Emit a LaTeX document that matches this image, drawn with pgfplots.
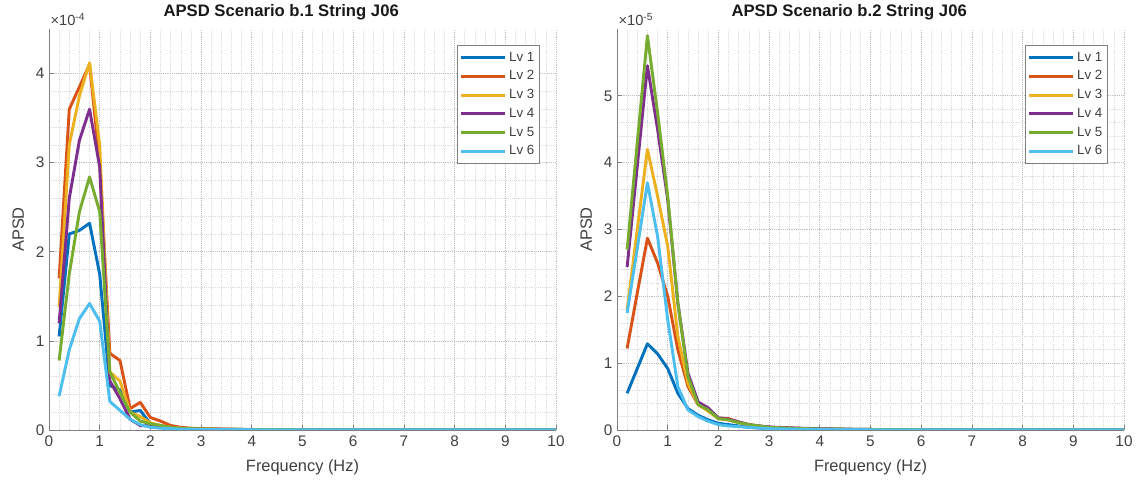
\documentclass[border=0pt]{standalone}
\usepackage{pgfplots}
\pgfplotsset{compat=1.18}
\usepackage{pgfplotstable}
\usepackage{fontspec}
\setmainfont{Liberation Sans}
\definecolor{c1}{rgb}{0,0.447,0.741}
\definecolor{c2}{rgb}{0.85,0.325,0.098}
\definecolor{c3}{rgb}{0.929,0.694,0.125}
\definecolor{c4}{rgb}{0.494,0.184,0.556}
\definecolor{c5}{rgb}{0.466,0.674,0.188}
\definecolor{c6}{rgb}{0.301,0.745,0.933}
\definecolor{axgray}{rgb}{0.5,0.5,0.5}
\definecolor{txtgray}{rgb}{0.25,0.25,0.25}

% left: values in units of 1e-4
\pgfplotstableread{
f    a     b     c     d     e     g
0.2  1.05  1.70  1.38  1.20  0.78  0.38
0.4  2.20  3.60  3.20  2.60  1.75  0.90
0.6  2.24  3.85  3.75  3.25  2.45  1.25
0.8  2.32  4.10  4.12  3.60  2.84  1.42
1.0  1.75  3.00  3.20  2.95  2.45  1.22
1.2  0.50  0.86  0.65  0.55  0.65  0.32
1.4  0.45  0.78  0.55  0.35  0.42  0.22
1.6  0.20  0.24  0.20  0.12  0.20  0.12
1.8  0.22  0.31  0.15  0.05  0.10  0.06
2.0  0.07  0.14  0.08  0.05  0.07  0.03
2.2  0.05  0.10  0.05  0.03  0.05  0.02
2.4  0.03  0.05  0.03  0.02  0.03  0.015
2.6  0.02  0.03  0.02  0.015 0.02  0.01
2.8  0.015 0.02  0.015 0.01  0.015 0.008
3.0  0.01  0.015 0.01  0.008 0.01  0.006
4.0  0.005 0.006 0.005 0.004 0.005 0.003
5.0  0.003 0.003 0.003 0.002 0.003 0.002
6.0  0.002 0.002 0.002 0.001 0.002 0.001
7.0  0.001 0.001 0.001 0.001 0.001 0.001
8.0  0.001 0.001 0.001 0.001 0.001 0.001
9.0  0.001 0.001 0.001 0.001 0.001 0.001
10.0 0.001 0.001 0.001 0.001 0.001 0.001
}\tabL

% right: values in units of 1e-5
\pgfplotstableread{
f    a     b     c     d     e     g
0.2  0.55  1.22  1.80  2.44  2.70  1.75
0.4  0.92  2.05  3.00  3.95  4.30  2.72
0.6  1.29  2.87  4.20  5.45  5.90  3.70
0.8  1.14  2.50  3.50  4.50  4.75  2.90
1.0  0.92  2.00  2.75  3.45  3.50  1.65
1.2  0.55  1.20  1.40  1.90  1.90  0.65
1.4  0.32  0.65  0.70  0.85  0.80  0.30
1.6  0.22  0.38  0.38  0.42  0.38  0.20
1.8  0.15  0.30  0.28  0.33  0.30  0.13
2.0  0.10  0.18  0.17  0.18  0.17  0.08
2.2  0.08  0.17  0.15  0.16  0.15  0.06
2.4  0.06  0.12  0.11  0.12  0.11  0.05
2.6  0.04  0.08  0.08  0.08  0.08  0.04
2.8  0.03  0.06  0.06  0.06  0.06  0.03
3.0  0.02  0.04  0.04  0.045 0.04  0.02
3.5  0.015 0.025 0.025 0.03  0.025 0.012
4.0  0.01  0.015 0.015 0.018 0.015 0.008
5.0  0.005 0.008 0.008 0.008 0.008 0.004
6.0  0.003 0.004 0.004 0.004 0.004 0.002
7.0  0.002 0.002 0.002 0.002 0.002 0.001
8.0  0.001 0.001 0.001 0.001 0.001 0.001
9.0  0.001 0.001 0.001 0.001 0.001 0.001
10.0 0.001 0.001 0.001 0.001 0.001 0.001
}\tabR

\pgfplotsset{
  mystyle/.style={
    scale only axis, width=380.25pt, height=300.75pt,
    anchor=south west,
    xmin=0, xmax=10, ymin=0,
    xtick={0,1,...,10},
    axis x line*=bottom, axis y line*=left,
    axis line style={axgray, line width=0.6pt, -},
    tick style={axgray, line width=0.5pt},
    tick align=inside, major tick length=4pt,
    minor tick num=4, minor tick length=0pt,
    grid=both,
    major grid style={densely dotted, black!25, line width=0.5pt},
    minor grid style={densely dotted, black!14, line width=0.45pt},
    ticklabel style={font=\fontsize{11.5}{13}\selectfont, text=txtgray},
    xticklabel style={yshift=-1pt},
    /pgf/number format/assume math mode=true,
    xlabel={Frequency (Hz)}, ylabel={APSD},
    xlabel style={font=\fontsize{12.3}{14}\selectfont, text=txtgray, yshift=-3pt},
    ylabel style={font=\fontsize{12.3}{14}\selectfont, text=txtgray, yshift=2pt},
    title style={font=\bfseries\fontsize{12.5}{14}\selectfont, text=black!90, xshift=-16pt, yshift=-3pt},
    every axis plot/.append style={line width=2.2pt, line join=round, no markers},
    legend cell align=left,
    legend style={at={(rel axis cs:1,1)}, anchor=north east, xshift=-12pt, yshift=-12pt,
      draw=axgray, line width=0.5pt, font=\fontsize{10}{12}\selectfont, text=txtgray,
      row sep=1.6pt, inner xsep=2pt, inner ysep=3pt},
    legend image code/.code={\draw[##1, line width=2.2pt] (0cm,0cm) -- (1.15cm,0cm);},
  },
  scalelabel/.style={
    after end axis/.append code={
      \node[anchor=south west, inner sep=1pt, yshift=1pt, text=txtgray, font=\fontsize{11}{13}\selectfont]
        at (rel axis cs:0,1) {×10\textsuperscript{#1}};
    }
  }
}

\begin{document}
\begin{tikzpicture}
\useasboundingbox (0,0) rectangle (852pt,363pt);
\begin{axis}[mystyle, at={(36.75pt,40.5pt)}, ymax=4.5,
  ytick={0,1,2,3,4}, scalelabel={-4},
  title={APSD Scenario b.1 String J06}]
\addplot[c1] table[x=f,y=a]{\tabL};
\addplot[c2] table[x=f,y=b]{\tabL};
\addplot[c3] table[x=f,y=c]{\tabL};
\addplot[c4] table[x=f,y=d]{\tabL};
\addplot[c5] table[x=f,y=e]{\tabL};
\addplot[c6] table[x=f,y=g]{\tabL};
\legend{Lv 1,Lv 2,Lv 3,Lv 4,Lv 5,Lv 6}
\end{axis}
\begin{axis}[mystyle, at={(462.75pt,40.5pt)}, ymax=6,
  ytick={0,1,2,3,4,5}, scalelabel={-5},
  title={APSD Scenario b.2 String J06}]
\addplot[c1] table[x=f,y=a]{\tabR};
\addplot[c2] table[x=f,y=b]{\tabR};
\addplot[c3] table[x=f,y=c]{\tabR};
\addplot[c4] table[x=f,y=d]{\tabR};
\addplot[c5] table[x=f,y=e]{\tabR};
\addplot[c6] table[x=f,y=g]{\tabR};
\legend{Lv 1,Lv 2,Lv 3,Lv 4,Lv 5,Lv 6}
\end{axis}
\end{tikzpicture}
\end{document}
